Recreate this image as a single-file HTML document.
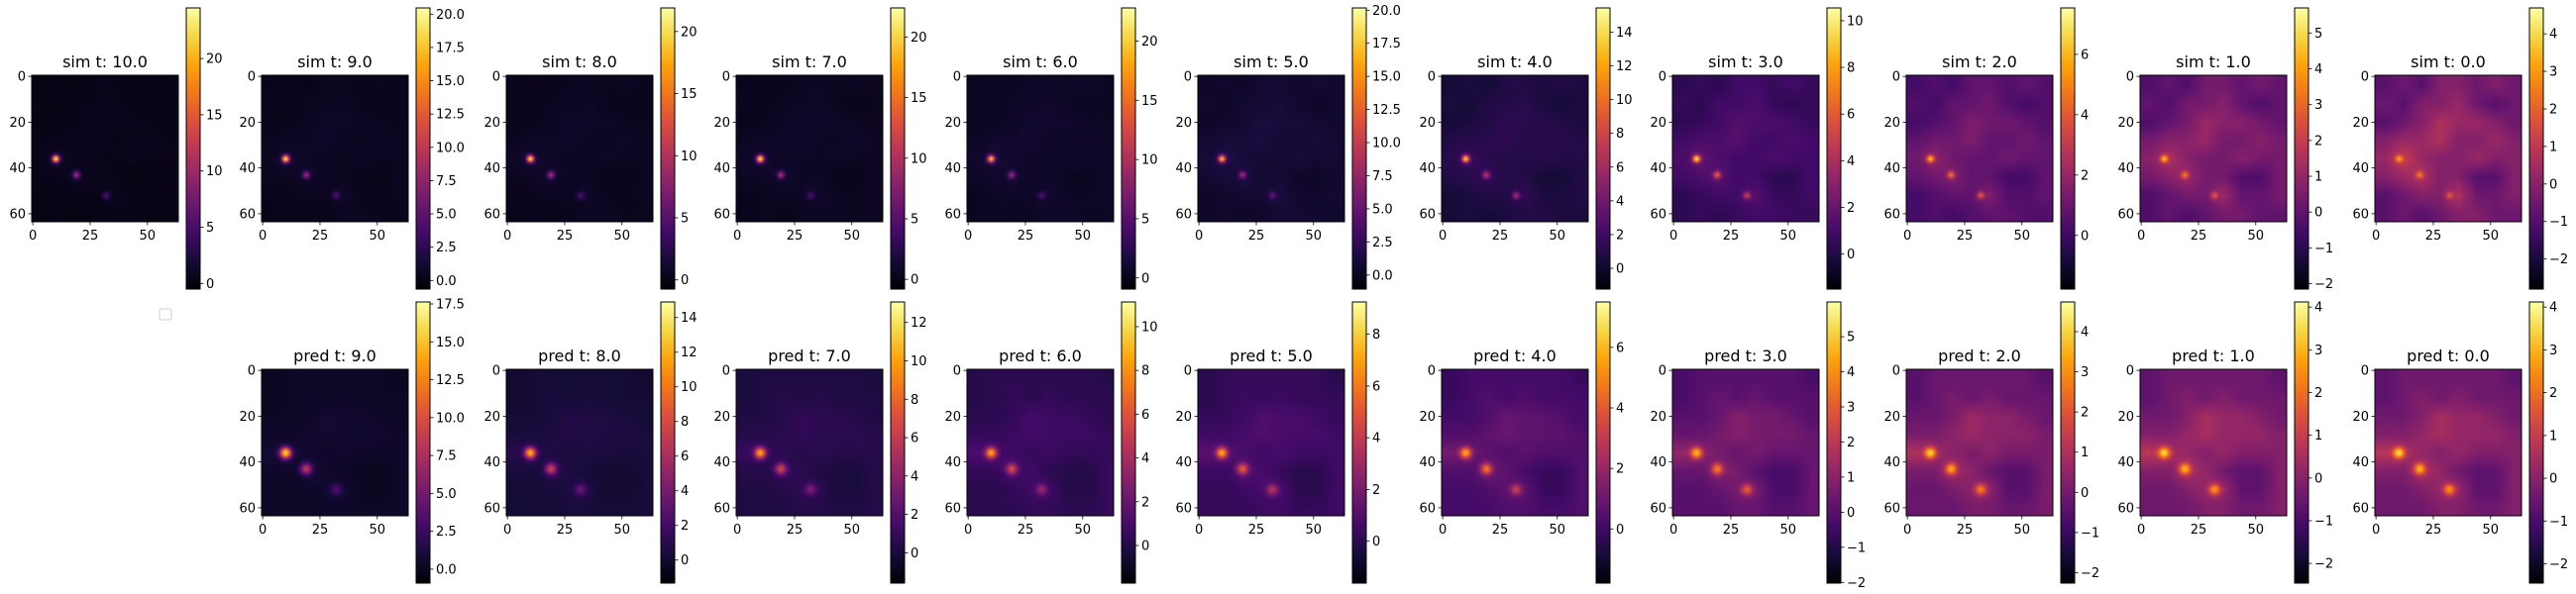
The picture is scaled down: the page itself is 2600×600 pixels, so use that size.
<!DOCTYPE html>
<html><head><meta charset="utf-8">
<style>
html,body{margin:0;padding:0;background:#fff;}
#root{position:relative;width:2600px;height:600px;overflow:hidden;background:#fff;font-family:"DejaVu Sans","Liberation Sans",sans-serif;}
canvas{position:absolute;width:148px;height:148px;}
svg{position:absolute;left:0;top:0;}
</style></head>
<body>
<div id="root">
<svg id="svg" width="2600" height="600">
<defs>
<linearGradient id="inferno" x1="0" y1="1" x2="0" y2="0">
<stop offset="0" stop-color="#000004"/><stop offset="0.1" stop-color="#160b39"/><stop offset="0.2" stop-color="#420a68"/><stop offset="0.3" stop-color="#6a176e"/><stop offset="0.4" stop-color="#932667"/><stop offset="0.5" stop-color="#bc3754"/><stop offset="0.6" stop-color="#dd513a"/><stop offset="0.7" stop-color="#f37819"/><stop offset="0.8" stop-color="#fca50a"/><stop offset="0.9" stop-color="#f6d746"/><stop offset="1" stop-color="#fcffa4"/>
</linearGradient>
</defs>
<rect x="161" y="312" width="12" height="11" rx="2" fill="#fff" stroke="#ccc" stroke-width="1"/>
</svg>
</div>
<script>
// ---- data ----
const simTimes = [10,9,8,7,6,5,4,3,2,1,0];
const predTimes = [9,8,7,6,5,4,3,2,1,0];
const simVmin = [-0.5,-0.65,-0.74,-0.8,-0.94,-1.06,-1.23,-1.5,-1.78,-2.15,-2.8];
const simVmax = [24.5,20.47,21.9,22.4,22.8,20.17,15.43,10.55,7.54,5.7,4.69];
const simTicks = [[0,5,10,15,20],[0,2.5,5,7.5,10,12.5,15,17.5,20],[0,5,10,15,20],[0,5,10,15,20],[0,5,10,15,20],[0,2.5,5,7.5,10,12.5,15,17.5,20],[0,2,4,6,8,10,12,14],[0,2,4,6,8,10],[0,2,4,6],[-2,-1,0,1,2,3,4,5],[-2,-1,0,1,2,3,4]];
const simDec = [0,1,0,0,0,1,0,0,0,0,0];
const predVmin = [-0.92,-1.33,-1.58,-1.72,-1.62,-1.79,-2.02,-2.26,-2.46,-2.45];
const predVmax = [17.63,14.9,13.07,11.13,9.25,7.5,5.99,4.74,4.12,4.12];
const predTicks = [[0,2.5,5,7.5,10,12.5,15,17.5],[0,2,4,6,8,10,12,14],[0,2,4,6,8,10,12],[0,2,4,6,8,10],[0,2,4,6,8],[0,2,4,6],[-2,-1,0,1,2,3,4,5],[-2,-1,0,1,2,3,4],[-2,-1,0,1,2,3,4],[-2,-1,0,1,2,3,4]];
const predDec = [1,0,0,0,0,0,0,0,0,0];
const simBg = [-0.3,-0.3,-0.3,-0.3,-0.3,-0.3,-0.4,-0.6,-0.9,-1.4,-2.1];
const simAmp = [1.6,1.6,1.7,1.8,2.0,2.3,2.6,3.0,3.4,3.6,4.0];
const simHot = [[24,10,5],[20,8,4],[21,9,4],[22,9,4],[20,8,4],[17,7,4],[13,6,5],[9,5,4],[5,3.5,3],[3.5,2.5,2],[2.5,2,1.6]];
const predBg = [-0.4,-0.5,-0.6,-0.7,-0.8,-1.0,-1.2,-1.4,-1.6,-1.6];
const predAmp = [1.6,1.8,2.0,2.3,2.5,2.8,3.0,3.0,3.0,3.0];
const predHot = [[16,8,3],[12,7,3],[10,6,3],[8,5,3],[6.5,4.5,3],[5,4,2.5],[4,3,2.5],[3.5,3,2.5],[3.2,2.8,2.5],[3.2,2.8,2.5]];
const hotRows = [36,43,52];
const hotCols = [10,19,32];
const simMap = [
[.3,.4,.3,.5,.5,.4,.5,.4],
[.4,.3,.5,.5,.6,.4,.3,.4],
[.3,.4,.5,.7,.6,.6,.5,.4],
[.5,.6,.6,.7,.5,.5,.6,.5],
[.6,.8,.6,.5,.5,.6,.5,.5],
[.5,.6,.7,.5,.5,.3,.3,.5],
[.3,.4,.5,.5,.7,.4,.4,.5],
[.3,.4,.3,.4,.5,.5,.4,.4]];
const predMap = [
[.3,.4,.4,.4,.4,.4,.4,.3],
[.3,.4,.5,.4,.5,.4,.4,.4],
[.4,.4,.5,.7,.6,.6,.5,.4],
[.5,.5,.6,.7,.6,.6,.6,.5],
[.8,.7,.6,.5,.6,.5,.5,.5],
[.5,.5,.7,.6,.4,.3,.3,.5],
[.4,.4,.5,.6,.6,.3,.3,.5],
[.4,.4,.4,.5,.5,.4,.4,.5]];

// ---- layout ----
const colX = [32,264,511,743,976,1209,1455,1688,1924,2160,2397];
const S = 148;
const NS = 'http://www.w3.org/2000/svg';
const svg = document.getElementById('svg');
const root = document.getElementById('root');
const stops = [[0,0,0,4],[.1,22,11,57],[.2,66,10,104],[.3,106,23,110],[.4,147,38,103],[.5,188,55,84],[.6,221,81,58],[.7,243,120,25],[.8,252,165,10],[.9,246,215,70],[1,252,255,164]];
function cmap(t){t=Math.max(0,Math.min(1,t));for(let i=1;i<stops.length;i++){if(t<=stops[i][0]){const a=stops[i-1],b=stops[i];const f=(t-a[0])/(b[0]-a[0]);return [a[1]+f*(b[1]-a[1]),a[2]+f*(b[2]-a[2]),a[3]+f*(b[3]-a[3])];}}return stops[stops.length-1].slice(1);}
function sampleMap(m,r,c){const fr=Math.max(0,Math.min(7,r/64*8-0.5)),fc=Math.max(0,Math.min(7,c/64*8-0.5));const r0=Math.floor(fr),c0=Math.floor(fc),r1=Math.min(7,r0+1),c1=Math.min(7,c0+1);const a=fr-r0,b=fc-c0;return m[r0][c0]*(1-a)*(1-b)+m[r0][c1]*(1-a)*b+m[r1][c0]*a*(1-b)+m[r1][c1]*a*b;}
function el(tag,attrs,parent){const e=document.createElementNS(NS,tag);for(const k in attrs)e.setAttribute(k,attrs[k]);(parent||svg).appendChild(e);return e;}
function fmt(v,d){let s=d?v.toFixed(1):String(v);return s.replace('-','\u2212');}

function panel(x,y,cbTop,title,vmin,vmax,ticks,dec,bg,amp,hot,map,sigma,key){
  const cv=document.createElement('canvas');cv.width=64;cv.height=64;
  cv.style.left=x+'px';cv.style.top=y+'px';
  
  
  root.insertBefore(cv,svg);
  const ctx=cv.getContext('2d');const img=ctx.createImageData(64,64);
  for(let r=0;r<64;r++)for(let c=0;c<64;c++){
    let v=bg+amp*sampleMap(map,r,c);
    for(let h=0;h<hot.length;h++){const d2=(r-hotRows[h])**2+(c-hotCols[h])**2;v+=hot[h]*Math.exp(-d2/(2*sigma*sigma));}
    const col=cmap((v-vmin)/(vmax-vmin));const i=(r*64+c)*4;
    img.data[i]=col[0];img.data[i+1]=col[1];img.data[i+2]=col[2];img.data[i+3]=255;
  }
  ctx.putImageData(img,0,0);
  const g=el('g',{});
  
  
  el('rect',{x:x,y:y,width:S,height:S,fill:'none',stroke:'#000','stroke-width':1},g);
  const t=el('text',{x:x+S/2,y:y-8,'text-anchor':'middle','font-size':16,fill:'#000'},g);t.textContent=title;
  
  
  [0,20,40,60].forEach(v=>{const yy=y+(v+0.5)*S/64;
    el('line',{x1:x-3.5,x2:x,y1:yy,y2:yy,stroke:'#000','stroke-width':0.8},g);
    const l=el('text',{x:x-6,y:yy+4.5,'text-anchor':'end','font-size':13,fill:'#000'},g);l.textContent=v;
    
    });
  [0,25,50].forEach(v=>{const xx=x+(v+0.5)*S/64;
    el('line',{x1:xx,x2:xx,y1:y+S,y2:y+S+3.5,stroke:'#000','stroke-width':0.8},g);
    const l=el('text',{x:xx,y:y+S+18,'text-anchor':'middle','font-size':13,fill:'#000'},g);l.textContent=v;
    
    });
  const cx=x+S+8,cw=14,ch=284;
  const cb=el('rect',{x:cx,y:cbTop,width:cw,height:ch,fill:'url(#inferno)',stroke:'#000','stroke-width':1},g);
  
  
  ticks.forEach(v=>{const yy=cbTop+ch-(v-vmin)/(vmax-vmin)*ch;
    el('line',{x1:cx+cw,x2:cx+cw+3.5,y1:yy,y2:yy,stroke:'#000','stroke-width':0.8},g);
    const l=el('text',{x:cx+cw+6,y:yy+4.5,'font-size':13,fill:'#000'},g);l.textContent=fmt(v,dec);
    
    });
}
simTimes.forEach((tt,i)=>panel(colX[i],76,8,'sim t: '+tt.toFixed(1),simVmin[i],simVmax[i],simTicks[i],simDec[i],simBg[i],simAmp[i],simHot[i],simMap,1.1,'sim-t'+tt));
predTimes.forEach((tt,i)=>panel(colX[i+1],373,305,'pred t: '+tt.toFixed(1),predVmin[i],predVmax[i],predTicks[i],predDec[i],predBg[i],predAmp[i],predHot[i],predMap,1.7,'pred-t'+tt));
</script>
</body></html>
